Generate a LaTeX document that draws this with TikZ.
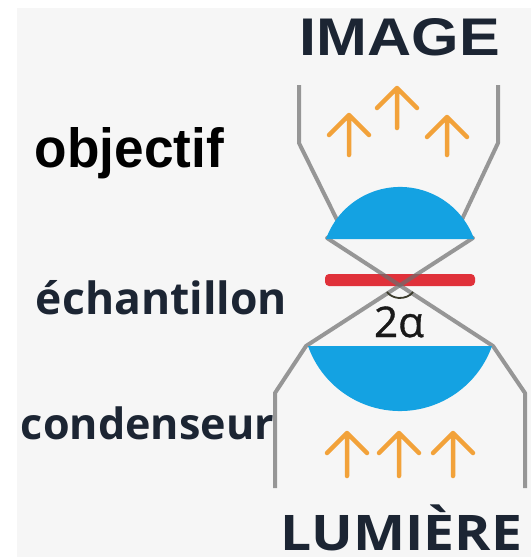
\documentclass[tikz,border=0pt]{standalone}
\usepackage{graphicx}
\usepackage{fontspec}
\setmainfont{Open Sans}
\newfontfamily\helv{Liberation Sans}
\newfontfamily\opens{Open Sans}
\newfontfamily\opensmed{Open Sans}[FakeBold=0.8]

\definecolor{paper}{HTML}{F6F6F6}
\definecolor{ink}{HTML}{1C2533}
\definecolor{lensblue}{HTML}{14A2E2}
\definecolor{rayorange}{HTML}{F2A23A}
\definecolor{tubegray}{HTML}{6E6E6E}
\definecolor{slidered}{HTML}{E0313A}
\definecolor{arcdark}{HTML}{3B3B2B}

\tikzset{
  tube/.style={draw=tubegray, draw opacity=0.7, line width=4pt, line join=round},
  rayarrow/.style={draw=rayorange, line width=4.5pt, line cap=round, line join=round},
  label/.style={inner sep=0pt, anchor=base, text=ink},
}

\begin{document}
\begin{tikzpicture}[x=1pt, y=-1pt]
  \useasboundingbox (0,0) rectangle (531,557);
  % page and panel background
  \fill[white] (0,0) rectangle (531,557);
  \fill[paper] (17,8) rectangle (531,557);

  % specimen slide
  \fill[slidered, rounded corners=4pt] (325,274) rectangle (475,286);

  % microscope tube walls and the light cone through the sample
  \draw[tube] (299,85) -- (299,143) -- (342,230) -- (327,238)
              -- (493,346) -- (525,393) -- (525,488);
  \draw[tube] (498,85) -- (498,143) -- (457,230) -- (473,238)
              -- (306,346) -- (275,393) -- (275,488);

  % objective lens (plano-convex, flat side down)
  \fill[lensblue] (326,239) arc[start angle=-160.2, end angle=-19.8, radius=78.7] -- cycle;
  % condenser lens (plano-convex, flat side up)
  \fill[lensblue] (308,346) arc[start angle=160.5, end angle=19.5, radius=97.6] -- cycle;

  % aperture angle
  \draw[arcdark, line width=1.8pt] (400,284) ++(35:16 and 14)
     arc[start angle=35, end angle=145, x radius=16, y radius=14];

  % light rays
  \foreach \x/\b/\t in {349/155/115, 397/128/88, 447/155/117,
                        347/476/433, 399/476/433, 453/476/433}
    \draw[rayarrow] (\x,\b) -- (\x,\t) (\x-20,\t+20) -- (\x,\t) -- (\x+20,\t+20);

  % labels
  \node[label] (image) at (400,55)
    {\resizebox{200pt}{37pt}{\helv\bfseries IMAGE}};
  \node[label] (lumiere) at (401.5,550)
    {\resizebox{241pt}{35pt}{\opens\bfseries\vphantom{LUMIERE}\smash{LUMIÈRE}}};
  \node[label, text=black] (objectif) at (129.5,167)
    {\resizebox{189pt}{40pt}{\helv\bfseries objectif}};
  \node[label] (echantillon) at (161.5,314)
    {\resizebox{251pt}{!}{\opens\bfseries échantillon}};
  \node[label] (condenseur) at (147.5,439)
    {\resizebox{253pt}{!}{\opens\bfseries condenseur}};
  \node[label, text=black!90] (angle) at (399,337)
    {\resizebox{50pt}{!}{\opensmed 2α}};
\end{tikzpicture}
\end{document}
